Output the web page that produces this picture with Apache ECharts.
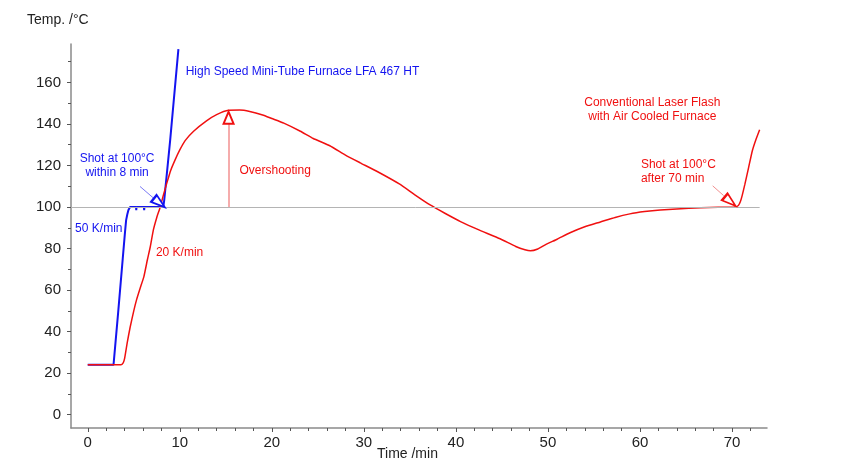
<!DOCTYPE html>
<html><head><meta charset="utf-8">
<script src="https://cdn.jsdelivr.net/npm/echarts@6/dist/echarts.min.js"></script>
<style>html,body{margin:0;padding:0;background:#fff}#c{width:845px;height:465px}</style>
</head><body><div id="c"></div>
<script>
const xTicks = [0, 10, 20, 30, 40, 50, 60, 70];
const xMinorTicks = [2, 4, 6, 8, 12, 14, 16, 18, 22, 24, 26, 28, 32, 34, 36, 38, 42, 44, 46, 48, 52, 54, 56, 58, 62, 64, 66, 68, 72];
const yTicks = [0, 20, 40, 60, 80, 100, 120, 140, 160];
const yMinorTicks = [10, 30, 50, 70, 90, 110, 130, 150, 170];

// High Speed Mini-Tube Furnace (50 K/min)
const blueTime = [0, 2.8, 3.3, 3.8, 4.05, 4.17, 4.3, 4.42, 4.6, 5.0, 5.25, 5.27, 5.3, 6.1, 6.13, 6.16, 7.0, 8.2, 8.3, 8.95, 9.85];
const blueTemp = [24, 24, 49, 75, 88, 93.7, 96.5, 98.6, 100, 100, 100, 98.5, 100, 100, 98.5, 100, 100, 100, 103, 132, 176];

// Conventional Laser Flash with Air Cooled Furnace (20 K/min)
const redTime = [0, 3.6, 3.85, 4.0, 4.3, 4.6, 5.0, 5.3, 5.7, 6.1, 6.48, 6.8, 7.13, 7.5, 7.86, 8.2, 8.59, 9.0, 9.49, 10.0, 10.58, 11.5, 12.9, 14.0, 15.3, 16.5, 17.6, 19.0, 20.0, 21.3, 23.1, 24.5, 26.3, 28.0, 29.6, 31.5, 33.9, 35.5, 37.2, 38.8, 40.5, 42.5, 44.8, 46.5, 47.5, 48.1, 48.9, 49.7, 51.0, 52.4, 54.0, 55.7, 57.3, 58.9, 60.5, 62.2, 64.0, 66.6, 68.5, 70.2, 70.5, 70.7, 70.9, 71.1, 71.4, 71.8, 72.2, 72.6, 73.0];
const redTemp = [24, 24, 25, 27, 35, 42, 50, 55.3, 61, 66.5, 74.6, 81, 89, 95, 99.8, 105.5, 111.5, 117.5, 122.7, 127.5, 132, 136.5, 141.5, 144.5, 146.6, 146.7, 146, 144.3, 142.6, 140.4, 136.5, 133, 129.5, 125, 121.3, 117, 111, 106, 101, 97, 93, 89, 84.7, 81, 79.4, 78.9, 79.8, 81.8, 84.5, 87.6, 90.5, 92.8, 95, 96.7, 97.8, 98.6, 99.1, 99.6, 99.9, 100, 100.2, 100.8, 102.5, 105.5, 111, 119, 127, 132.5, 137.2];

const FONT = "'Liberation Sans', Arial, sans-serif";
const BLUE = '#1414f0';
const RED = '#f01010';
const zip = (a, b) => a.map((v, i) => [v, b[i]]);

function textPoint(x, y, text, color, position, align) {
  return {
    coord: [x, y], symbol: 'circle', symbolSize: 1,
    itemStyle: { color: 'rgba(0,0,0,0)' },
    label: { show: true, formatter: text, color: color, fontSize: 12, fontFamily: FONT,
      position: position, distance: 0, align: align, lineHeight: 14 }
  };
}
function head(x, y, size, rot, color) {
  return {
    coord: [x, y], symbol: 'triangle', symbolSize: size, symbolRotate: rot,
    itemStyle: { color: '#fff', borderColor: color, borderWidth: 2 },
    label: { show: false }
  };
}

const xMin = -1.82, xMax = 73.8, yMin = -6.4, yMax = 178.5;

const chart = echarts.init(document.getElementById('c'), null, { renderer: 'canvas' });
chart.setOption({
  animation: false,
  backgroundColor: '#fff',
  grid: { left: 71, right: 78, top: 44, bottom: 37, containLabel: false },
  xAxis: [
    { type: 'value', min: xMin, max: xMax, position: 'bottom',
      axisLine: { onZero: false, lineStyle: { color: '#8a8a8a', width: 1.5 } },
      axisTick: { show: true, customValues: xTicks, length: 4, lineStyle: { color: '#555' } },
      axisLabel: { customValues: xTicks, fontSize: 15, color: '#222', margin: 7, fontFamily: FONT },
      splitLine: { show: false } },
    { type: 'value', min: xMin, max: xMax, position: 'bottom',
      axisLine: { show: false, onZero: false },
      axisTick: { show: true, customValues: xMinorTicks, length: 3, lineStyle: { color: '#555' } },
      axisLabel: { show: false }, splitLine: { show: false } }
  ],
  yAxis: [
    { type: 'value', min: yMin, max: yMax, position: 'left',
      axisLine: { show: true, onZero: false, lineStyle: { color: '#8a8a8a', width: 1.5 } },
      axisTick: { show: true, customValues: yTicks, length: 4, lineStyle: { color: '#555' } },
      axisLabel: { customValues: yTicks, fontSize: 15, color: '#222', margin: 10, fontFamily: FONT },
      splitLine: { show: false } },
    { type: 'value', min: yMin, max: yMax, position: 'left',
      axisLine: { show: false, onZero: false },
      axisTick: { show: true, customValues: yMinorTicks, length: 3, lineStyle: { color: '#555' } },
      axisLabel: { show: false }, splitLine: { show: false } }
  ],
  graphic: [
    { type: 'text', left: 27, top: 13, style: { text: 'Temp. /°C', font: '14px ' + FONT, fill: '#222' } },
    { type: 'text', left: 377, top: 447, style: { text: 'Time /min', font: '14px ' + FONT, fill: '#222' } }
  ],
  series: [
    { name: 'High Speed', type: 'line', data: zip(blueTime, blueTemp), showSymbol: false, symbol: 'none',
      lineStyle: { color: BLUE, width: 2 }, z: 3,
      markLine: { silent: true, symbol: ['none', 'none'], label: { show: false },
        data: [
          [{ coord: [5.68, 109.9] }, { coord: [7.17, 104.2] }]
        ],
        lineStyle: { color: '#7b7bf5', width: 1, type: 'solid' } },
      markPoint: { silent: true, data: [
        head(7.78, 102.0, [9, 14], -129, BLUE),
        textPoint(10.58, 165.2, 'High Speed Mini-Tube Furnace LFA 467 HT', BLUE, 'right', 'left'),
        textPoint(3.19, 119.9, 'Shot at 100°C\nwithin 8 min', BLUE, 'inside', 'center'),
        textPoint(1.2, 89.5, '50 K/min', BLUE, 'inside', 'center')
      ] } },
    { name: 'Conventional', type: 'line', data: zip(redTime, redTemp), showSymbol: false, symbol: 'none',
      smooth: 0.15,
      lineStyle: { color: RED, width: 1.5 }, z: 4,
      markLine: { silent: true, symbol: ['none', 'none'], label: { show: false },
        data: [
          [{ coord: [xMin, 100], lineStyle: { color: '#b4b4b4', width: 1, type: 'solid' } }, { coord: [73, 100] }],
          [{ coord: [15.3, 100], lineStyle: { color: '#f29090', width: 1.5, type: 'solid' } }, { coord: [15.3, 140] }],
          [{ coord: [67.9, 110.2], lineStyle: { color: '#f29090', width: 1, type: 'solid' } }, { coord: [69.09, 105.5] }]
        ] },
      markPoint: { silent: true, data: [
        head(15.3, 143, [10, 12], 0, RED),
        head(69.8, 102.7, [9, 14], -130, RED),
        textPoint(20.36, 117.4, 'Overshooting', RED, 'inside', 'center'),
        textPoint(9.98, 77.9, '20 K/min', RED, 'inside', 'center'),
        textPoint(61.34, 147.1, 'Conventional Laser Flash\nwith Air Cooled Furnace', RED, 'inside', 'center'),
        textPoint(60.05, 117.0, 'Shot at 100°C\nafter 70 min', RED, 'right', 'left')
      ] } }
  ]
});
</script></body></html>
